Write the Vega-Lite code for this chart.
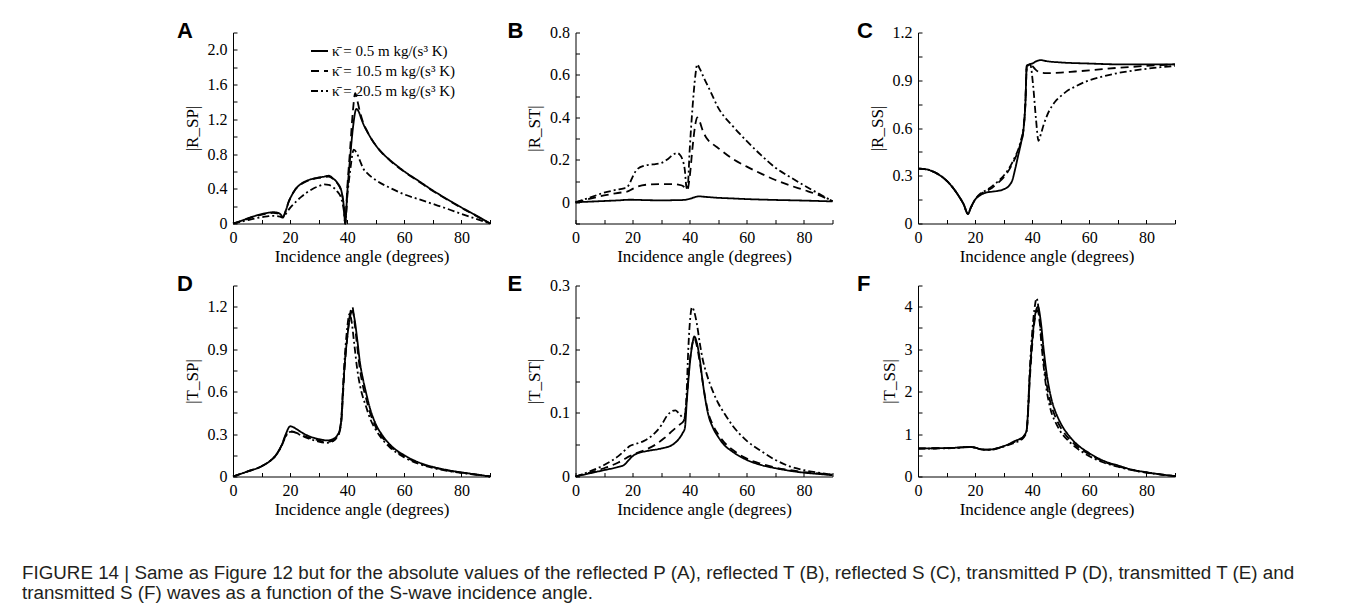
{
"$schema":"https://vega.github.io/schema/vega-lite/v6.json",
"background":"white",
"padding":{"left":22,"top":19.5,"right":10,"bottom":2},
"columns":3,
"spacing":{"row":62,"column":85.5},
"bounds":"flush",
"align":"all",
"title":{"text":["FIGURE 14 | Same as Figure 12 but for the absolute values of the reflected P (A), reflected T (B), reflected S (C), transmitted P (D), transmitted T (E) and","transmitted S (F) waves as a function of the S-wave incidence angle."],"orient":"bottom","anchor":"start","frame":"group","dx":-211,"offset":46,"font":"Liberation Sans","fontSize":18.8,"fontWeight":"normal","color":"#231f20","lineHeight":20.5},
"resolve":{"scale":{"strokeDash":"independent"},"legend":{"strokeDash":"independent"}},
"concat":[
{"width":257,"height":191,"data":{"name":"A"},"title":{"text":"A","dx":-56,"dy":22.7},
"mark":{"type":"line","interpolate":"monotone","color":"black","strokeWidth":1.8},
"encoding":{
"x":{"field":"x","type":"quantitative","scale":{"domain":[0,90],"nice":false},"axis":{"title":"Incidence angle (degrees)","values":[0,10,20,30,40,50,60,70,80,90],"labelExpr":"datum.value % 20 == 0 && datum.value < 90 ? datum.label : ''"}},
"y":{"field":"y","type":"quantitative","scale":{"domain":[0,2.2],"nice":false,"zero":false},"axis":{"title":"|R_SP|","values":[0,0.2,0.4,0.6,0.8,1.0,1.2,1.4,1.6,1.8,2.0,2.2],"labelExpr":"abs(datum.value/0.4-round(datum.value/0.4))<0.01 && datum.value<2.1 ? (datum.value==0?'0':format(datum.value,'.1f')) : ''"}},
"strokeDash":{"field":"k","type":"nominal","scale":{"domain":[0.5,10.5,20.5],"range":[[1,0],[8,5],[7,3,2,3]]},"legend":{"orient":"none","legendX":77,"legendY":9,"title":null,"padding":0,"symbolType":"stroke","symbolSize":289,"symbolStrokeWidth":1.8,"symbolStrokeColor":"black","labelFont":"Liberation Serif","labelFontSize":15,"labelColor":"black","labelLimit":0,"labelOffset":3,"rowPadding":2,"labelExpr":"'κ̄ = ' + datum.label + ' m kg/(s³ K)'"}}}},
{"width":257,"height":191,"data":{"name":"B"},"title":{"text":"B","dx":-68,"dy":22.7},
"mark":{"type":"line","interpolate":"monotone","color":"black","strokeWidth":1.8},
"encoding":{
"x":{"field":"x","type":"quantitative","scale":{"domain":[0,90],"nice":false},"axis":{"title":"Incidence angle (degrees)","values":[0,10,20,30,40,50,60,70,80,90],"labelExpr":"datum.value % 20 == 0 && datum.value < 90 ? datum.label : ''"}},
"y":{"field":"y","type":"quantitative","scale":{"domain":[-0.1,0.8],"nice":false,"zero":false},"axis":{"title":"|R_ST|","values":[-0.1,0,0.1,0.2,0.3,0.4,0.5,0.6,0.7,0.8],"labelExpr":"datum.value>=0 && abs(datum.value/0.2-round(datum.value/0.2))<0.01 ? (datum.value==0?'0':format(datum.value,'.1f')) : ''"}},
"strokeDash":{"field":"k","type":"nominal","scale":{"domain":[0.5,10.5,20.5],"range":[[1,0],[8,5],[7,3,2,3]]},"legend":null}}},
{"width":257,"height":191,"data":{"name":"C"},"title":{"text":"C","dx":-61,"dy":22.7},
"mark":{"type":"line","interpolate":"monotone","color":"black","strokeWidth":1.8},
"encoding":{
"x":{"field":"x","type":"quantitative","scale":{"domain":[0,90],"nice":false},"axis":{"title":"Incidence angle (degrees)","values":[0,10,20,30,40,50,60,70,80,90],"labelExpr":"datum.value % 20 == 0 && datum.value < 90 ? datum.label : ''"}},
"y":{"field":"y","type":"quantitative","scale":{"domain":[0,1.2],"nice":false,"zero":false},"axis":{"title":"|R_SS|","values":[0,0.15,0.3,0.45,0.6,0.75,0.9,1.05,1.2],"labelExpr":"abs(datum.value/0.3-round(datum.value/0.3))<0.01 ? (datum.value==0?'0':format(datum.value,'.1f')) : ''"}},
"strokeDash":{"field":"k","type":"nominal","scale":{"domain":[0.5,10.5,20.5],"range":[[1,0],[8,5],[7,3,2,3]]},"legend":null}}},
{"width":257,"height":191,"data":{"name":"D"},"title":{"text":"D","dx":-56,"dy":22.7},
"mark":{"type":"line","interpolate":"monotone","color":"black","strokeWidth":1.8},
"encoding":{
"x":{"field":"x","type":"quantitative","scale":{"domain":[0,90],"nice":false},"axis":{"title":"Incidence angle (degrees)","values":[0,10,20,30,40,50,60,70,80,90],"labelExpr":"datum.value % 20 == 0 && datum.value < 90 ? datum.label : ''"}},
"y":{"field":"y","type":"quantitative","scale":{"domain":[0,1.35],"nice":false,"zero":false},"axis":{"title":"|T_SP|","values":[0,0.15,0.3,0.45,0.6,0.75,0.9,1.05,1.2,1.35],"labelExpr":"datum.value<1.3 && abs(datum.value/0.3-round(datum.value/0.3))<0.01 ? (datum.value==0?'0':format(datum.value,'.1f')) : ''"}},
"strokeDash":{"field":"k","type":"nominal","scale":{"domain":[0.5,10.5,20.5],"range":[[1,0],[8,5],[7,3,2,3]]},"legend":null}}},
{"width":257,"height":191,"data":{"name":"E"},"title":{"text":"E","dx":-68,"dy":22.7},
"mark":{"type":"line","interpolate":"monotone","color":"black","strokeWidth":1.8},
"encoding":{
"x":{"field":"x","type":"quantitative","scale":{"domain":[0,90],"nice":false},"axis":{"title":"Incidence angle (degrees)","values":[0,10,20,30,40,50,60,70,80,90],"labelExpr":"datum.value % 20 == 0 && datum.value < 90 ? datum.label : ''"}},
"y":{"field":"y","type":"quantitative","scale":{"domain":[0,0.3],"nice":false,"zero":false},"axis":{"title":"|T_ST|","values":[0,0.05,0.1,0.15,0.2,0.25,0.3],"labelExpr":"abs(datum.value/0.1-round(datum.value/0.1))<0.01 ? (datum.value==0?'0':format(datum.value,'.1f')) : ''"}},
"strokeDash":{"field":"k","type":"nominal","scale":{"domain":[0.5,10.5,20.5],"range":[[1,0],[8,5],[7,3,2,3]]},"legend":null}}},
{"width":257,"height":191,"data":{"name":"F"},"title":{"text":"F","dx":-61,"dy":22.7},
"mark":{"type":"line","interpolate":"monotone","color":"black","strokeWidth":1.8},
"encoding":{
"x":{"field":"x","type":"quantitative","scale":{"domain":[0,90],"nice":false},"axis":{"title":"Incidence angle (degrees)","values":[0,10,20,30,40,50,60,70,80,90],"labelExpr":"datum.value % 20 == 0 && datum.value < 90 ? datum.label : ''"}},
"y":{"field":"y","type":"quantitative","scale":{"domain":[0,4.5],"nice":false,"zero":false},"axis":{"title":"|T_SS|","values":[0,0.5,1,1.5,2,2.5,3,3.5,4,4.5],"labelExpr":"datum.value%1==0 ? format(datum.value,'d') : ''"}},
"strokeDash":{"field":"k","type":"nominal","scale":{"domain":[0.5,10.5,20.5],"range":[[1,0],[8,5],[7,3,2,3]]},"legend":null}}}
],
"datasets":{
"A":[
{"k":0.5,"x":0,"y":0},{"k":0.5,"x":2,"y":0.02},{"k":0.5,"x":4,"y":0.045},{"k":0.5,"x":6,"y":0.07},{"k":0.5,"x":8,"y":0.09},{"k":0.5,"x":10,"y":0.108},{"k":0.5,"x":12,"y":0.122},{"k":0.5,"x":14,"y":0.13},{"k":0.5,"x":15.5,"y":0.125},{"k":0.5,"x":16.5,"y":0.11},{"k":0.5,"x":17.5,"y":0.075},{"k":0.5,"x":18.5,"y":0.15},{"k":0.5,"x":19.5,"y":0.25},{"k":0.5,"x":20.5,"y":0.32},{"k":0.5,"x":22,"y":0.4},{"k":0.5,"x":24,"y":0.46},{"k":0.5,"x":26,"y":0.495},{"k":0.5,"x":28,"y":0.515},{"k":0.5,"x":30,"y":0.53},{"k":0.5,"x":32,"y":0.54},{"k":0.5,"x":33.5,"y":0.55},{"k":0.5,"x":35,"y":0.52},{"k":0.5,"x":36.5,"y":0.47},{"k":0.5,"x":38,"y":0.37},{"k":0.5,"x":38.8,"y":0.2},{"k":0.5,"x":39.3,"y":0},{"k":0.5,"x":40,"y":0.35},{"k":0.5,"x":41,"y":0.75},{"k":0.5,"x":42,"y":1.1},{"k":0.5,"x":43.2,"y":1.32},{"k":0.5,"x":44,"y":1.29},{"k":0.5,"x":45,"y":1.2},{"k":0.5,"x":46,"y":1.12},{"k":0.5,"x":47,"y":1.06},{"k":0.5,"x":48,"y":1.0},{"k":0.5,"x":50,"y":0.9},{"k":0.5,"x":52,"y":0.82},{"k":0.5,"x":55,"y":0.73},{"k":0.5,"x":58,"y":0.65},{"k":0.5,"x":60,"y":0.6},{"k":0.5,"x":65,"y":0.49},{"k":0.5,"x":70,"y":0.38},{"k":0.5,"x":75,"y":0.28},{"k":0.5,"x":80,"y":0.185},{"k":0.5,"x":85,"y":0.095},{"k":0.5,"x":90,"y":0},
{"k":10.5,"x":0,"y":0},{"k":10.5,"x":4,"y":0.04},{"k":10.5,"x":8,"y":0.085},{"k":10.5,"x":12,"y":0.115},{"k":10.5,"x":14,"y":0.122},{"k":10.5,"x":15.5,"y":0.118},{"k":10.5,"x":16.5,"y":0.105},{"k":10.5,"x":17.5,"y":0.075},{"k":10.5,"x":18.5,"y":0.15},{"k":10.5,"x":19.5,"y":0.25},{"k":10.5,"x":20.5,"y":0.32},{"k":10.5,"x":22,"y":0.4},{"k":10.5,"x":24,"y":0.455},{"k":10.5,"x":26,"y":0.49},{"k":10.5,"x":28,"y":0.51},{"k":10.5,"x":30,"y":0.525},{"k":10.5,"x":32,"y":0.535},{"k":10.5,"x":33.5,"y":0.54},{"k":10.5,"x":35,"y":0.515},{"k":10.5,"x":36.5,"y":0.465},{"k":10.5,"x":38,"y":0.36},{"k":10.5,"x":38.8,"y":0.2},{"k":10.5,"x":39.3,"y":0},{"k":10.5,"x":40,"y":0.4},{"k":10.5,"x":41,"y":0.85},{"k":10.5,"x":42,"y":1.3},{"k":10.5,"x":42.8,"y":1.5},{"k":10.5,"x":43.5,"y":1.42},{"k":10.5,"x":44.5,"y":1.28},{"k":10.5,"x":45.5,"y":1.17},{"k":10.5,"x":47,"y":1.06},{"k":10.5,"x":48,"y":1.0},{"k":10.5,"x":50,"y":0.9},{"k":10.5,"x":55,"y":0.725},{"k":10.5,"x":60,"y":0.595},{"k":10.5,"x":65,"y":0.485},{"k":10.5,"x":70,"y":0.375},{"k":10.5,"x":75,"y":0.275},{"k":10.5,"x":80,"y":0.18},{"k":10.5,"x":85,"y":0.09},{"k":10.5,"x":90,"y":0},
{"k":20.5,"x":0,"y":0},{"k":20.5,"x":4,"y":0.03},{"k":20.5,"x":8,"y":0.06},{"k":20.5,"x":12,"y":0.082},{"k":20.5,"x":14,"y":0.088},{"k":20.5,"x":15.5,"y":0.085},{"k":20.5,"x":16.5,"y":0.078},{"k":20.5,"x":17.5,"y":0.068},{"k":20.5,"x":18.5,"y":0.11},{"k":20.5,"x":20,"y":0.18},{"k":20.5,"x":22,"y":0.25},{"k":20.5,"x":24,"y":0.31},{"k":20.5,"x":26,"y":0.36},{"k":20.5,"x":28,"y":0.4},{"k":20.5,"x":30,"y":0.43},{"k":20.5,"x":32,"y":0.45},{"k":20.5,"x":33.5,"y":0.445},{"k":20.5,"x":35,"y":0.42},{"k":20.5,"x":36.5,"y":0.37},{"k":20.5,"x":38,"y":0.28},{"k":20.5,"x":38.8,"y":0.15},{"k":20.5,"x":39.3,"y":0},{"k":20.5,"x":40,"y":0.3},{"k":20.5,"x":41,"y":0.6},{"k":20.5,"x":42.3,"y":0.85},{"k":20.5,"x":43.5,"y":0.8},{"k":20.5,"x":44.5,"y":0.72},{"k":20.5,"x":45.5,"y":0.64},{"k":20.5,"x":47,"y":0.58},{"k":20.5,"x":50,"y":0.5},{"k":20.5,"x":55,"y":0.41},{"k":20.5,"x":60,"y":0.335},{"k":20.5,"x":65,"y":0.28},{"k":20.5,"x":70,"y":0.225},{"k":20.5,"x":75,"y":0.17},{"k":20.5,"x":80,"y":0.11},{"k":20.5,"x":85,"y":0.055},{"k":20.5,"x":90,"y":0}
],
"B":[
{"k":0.5,"x":0,"y":0},{"k":0.5,"x":5,"y":0.003},{"k":0.5,"x":10,"y":0.006},{"k":0.5,"x":15,"y":0.009},{"k":0.5,"x":19,"y":0.012},{"k":0.5,"x":25,"y":0.01},{"k":0.5,"x":30,"y":0.009},{"k":0.5,"x":35,"y":0.01},{"k":0.5,"x":38,"y":0.011},{"k":0.5,"x":40,"y":0.016},{"k":0.5,"x":42,"y":0.025},{"k":0.5,"x":43,"y":0.028},{"k":0.5,"x":45,"y":0.026},{"k":0.5,"x":50,"y":0.021},{"k":0.5,"x":55,"y":0.018},{"k":0.5,"x":60,"y":0.015},{"k":0.5,"x":70,"y":0.011},{"k":0.5,"x":80,"y":0.008},{"k":0.5,"x":90,"y":0.004},
{"k":10.5,"x":0,"y":0},{"k":10.5,"x":3,"y":0.01},{"k":10.5,"x":6,"y":0.02},{"k":10.5,"x":10,"y":0.032},{"k":10.5,"x":14,"y":0.042},{"k":10.5,"x":17,"y":0.048},{"k":10.5,"x":18,"y":0.05},{"k":10.5,"x":20,"y":0.063},{"k":10.5,"x":22,"y":0.075},{"k":10.5,"x":25,"y":0.083},{"k":10.5,"x":30,"y":0.086},{"k":10.5,"x":34,"y":0.086},{"k":10.5,"x":36,"y":0.083},{"k":10.5,"x":37.5,"y":0.078},{"k":10.5,"x":38.5,"y":0.065},{"k":10.5,"x":39.2,"y":0.06},{"k":10.5,"x":40,"y":0.12},{"k":10.5,"x":41,"y":0.26},{"k":10.5,"x":42,"y":0.37},{"k":10.5,"x":42.6,"y":0.4},{"k":10.5,"x":43.5,"y":0.38},{"k":10.5,"x":44.5,"y":0.34},{"k":10.5,"x":46,"y":0.3},{"k":10.5,"x":48,"y":0.275},{"k":10.5,"x":50,"y":0.255},{"k":10.5,"x":55,"y":0.205},{"k":10.5,"x":60,"y":0.168},{"k":10.5,"x":65,"y":0.135},{"k":10.5,"x":70,"y":0.105},{"k":10.5,"x":75,"y":0.08},{"k":10.5,"x":80,"y":0.058},{"k":10.5,"x":85,"y":0.035},{"k":10.5,"x":90,"y":0.005},
{"k":20.5,"x":0,"y":0},{"k":20.5,"x":3,"y":0.013},{"k":20.5,"x":6,"y":0.027},{"k":20.5,"x":10,"y":0.045},{"k":20.5,"x":14,"y":0.058},{"k":20.5,"x":17,"y":0.066},{"k":20.5,"x":18,"y":0.07},{"k":20.5,"x":19,"y":0.09},{"k":20.5,"x":20,"y":0.12},{"k":20.5,"x":21,"y":0.145},{"k":20.5,"x":22,"y":0.16},{"k":20.5,"x":24,"y":0.172},{"k":20.5,"x":26,"y":0.177},{"k":20.5,"x":28,"y":0.18},{"k":20.5,"x":30,"y":0.185},{"k":20.5,"x":32,"y":0.2},{"k":20.5,"x":34,"y":0.222},{"k":20.5,"x":35.5,"y":0.232},{"k":20.5,"x":36.5,"y":0.225},{"k":20.5,"x":37.5,"y":0.2},{"k":20.5,"x":38.3,"y":0.15},{"k":20.5,"x":38.8,"y":0.075},{"k":20.5,"x":39.2,"y":0.06},{"k":20.5,"x":40,"y":0.25},{"k":20.5,"x":41,"y":0.45},{"k":20.5,"x":42,"y":0.6},{"k":20.5,"x":42.6,"y":0.65},{"k":20.5,"x":43.5,"y":0.63},{"k":20.5,"x":45,"y":0.585},{"k":20.5,"x":47,"y":0.53},{"k":20.5,"x":50,"y":0.445},{"k":20.5,"x":55,"y":0.36},{"k":20.5,"x":60,"y":0.288},{"k":20.5,"x":65,"y":0.222},{"k":20.5,"x":70,"y":0.163},{"k":20.5,"x":75,"y":0.12},{"k":20.5,"x":80,"y":0.08},{"k":20.5,"x":85,"y":0.042},{"k":20.5,"x":90,"y":0.005}
],
"C":[
{"k":0.5,"x":0,"y":0.345},{"k":0.5,"x":3,"y":0.34},{"k":0.5,"x":6,"y":0.32},{"k":0.5,"x":9,"y":0.285},{"k":0.5,"x":12,"y":0.23},{"k":0.5,"x":14,"y":0.18},{"k":0.5,"x":16,"y":0.12},{"k":0.5,"x":17.5,"y":0.06},{"k":0.5,"x":18.5,"y":0.1},{"k":0.5,"x":20,"y":0.15},{"k":0.5,"x":22,"y":0.18},{"k":0.5,"x":24,"y":0.195},{"k":0.5,"x":26,"y":0.2},{"k":0.5,"x":28,"y":0.205},{"k":0.5,"x":30,"y":0.215},{"k":0.5,"x":32,"y":0.24},{"k":0.5,"x":33,"y":0.27},{"k":0.5,"x":34,"y":0.34},{"k":0.5,"x":35,"y":0.42},{"k":0.5,"x":36,"y":0.5},{"k":0.5,"x":37,"y":0.6},{"k":0.5,"x":37.6,"y":0.75},{"k":0.5,"x":38.1,"y":0.99},{"k":0.5,"x":39,"y":1.0},{"k":0.5,"x":40,"y":1.005},{"k":0.5,"x":41.5,"y":1.02},{"k":0.5,"x":43,"y":1.027},{"k":0.5,"x":45,"y":1.02},{"k":0.5,"x":50,"y":1.012},{"k":0.5,"x":60,"y":1.005},{"k":0.5,"x":70,"y":1.0},{"k":0.5,"x":80,"y":1.0},{"k":0.5,"x":90,"y":1.0},
{"k":10.5,"x":0,"y":0.345},{"k":10.5,"x":3,"y":0.34},{"k":10.5,"x":6,"y":0.32},{"k":10.5,"x":9,"y":0.285},{"k":10.5,"x":12,"y":0.23},{"k":10.5,"x":14,"y":0.18},{"k":10.5,"x":16,"y":0.12},{"k":10.5,"x":17.5,"y":0.06},{"k":10.5,"x":18.5,"y":0.1},{"k":10.5,"x":20,"y":0.15},{"k":10.5,"x":22,"y":0.185},{"k":10.5,"x":24,"y":0.205},{"k":10.5,"x":26,"y":0.225},{"k":10.5,"x":28,"y":0.255},{"k":10.5,"x":30,"y":0.29},{"k":10.5,"x":32,"y":0.34},{"k":10.5,"x":34,"y":0.41},{"k":10.5,"x":35,"y":0.45},{"k":10.5,"x":36,"y":0.51},{"k":10.5,"x":37,"y":0.6},{"k":10.5,"x":37.6,"y":0.75},{"k":10.5,"x":38.1,"y":0.99},{"k":10.5,"x":39,"y":1.0},{"k":10.5,"x":40,"y":0.99},{"k":10.5,"x":41,"y":0.97},{"k":10.5,"x":42,"y":0.955},{"k":10.5,"x":43,"y":0.948},{"k":10.5,"x":45,"y":0.945},{"k":10.5,"x":50,"y":0.948},{"k":10.5,"x":55,"y":0.955},{"k":10.5,"x":60,"y":0.962},{"k":10.5,"x":70,"y":0.978},{"k":10.5,"x":80,"y":0.99},{"k":10.5,"x":90,"y":1.0},
{"k":20.5,"x":0,"y":0.345},{"k":20.5,"x":3,"y":0.34},{"k":20.5,"x":6,"y":0.32},{"k":20.5,"x":9,"y":0.285},{"k":20.5,"x":12,"y":0.23},{"k":20.5,"x":14,"y":0.18},{"k":20.5,"x":16,"y":0.12},{"k":20.5,"x":17.5,"y":0.06},{"k":20.5,"x":18.5,"y":0.1},{"k":20.5,"x":20,"y":0.15},{"k":20.5,"x":22,"y":0.19},{"k":20.5,"x":24,"y":0.21},{"k":20.5,"x":26,"y":0.235},{"k":20.5,"x":28,"y":0.265},{"k":20.5,"x":30,"y":0.3},{"k":20.5,"x":32,"y":0.35},{"k":20.5,"x":34,"y":0.42},{"k":20.5,"x":35,"y":0.46},{"k":20.5,"x":36,"y":0.52},{"k":20.5,"x":37,"y":0.61},{"k":20.5,"x":37.6,"y":0.76},{"k":20.5,"x":38.1,"y":0.98},{"k":20.5,"x":39.3,"y":1.0},{"k":20.5,"x":40.3,"y":0.87},{"k":20.5,"x":41.3,"y":0.66},{"k":20.5,"x":42.2,"y":0.52},{"k":20.5,"x":43,"y":0.56},{"k":20.5,"x":44,"y":0.62},{"k":20.5,"x":45,"y":0.67},{"k":20.5,"x":46,"y":0.71},{"k":20.5,"x":47,"y":0.74},{"k":20.5,"x":48,"y":0.765},{"k":20.5,"x":50,"y":0.8},{"k":20.5,"x":52,"y":0.83},{"k":20.5,"x":55,"y":0.86},{"k":20.5,"x":60,"y":0.9},{"k":20.5,"x":65,"y":0.925},{"k":20.5,"x":70,"y":0.945},{"k":20.5,"x":75,"y":0.96},{"k":20.5,"x":80,"y":0.972},{"k":20.5,"x":85,"y":0.982},{"k":20.5,"x":90,"y":0.99}
],
"D":[
{"k":0.5,"x":0,"y":0},{"k":0.5,"x":5,"y":0.035},{"k":0.5,"x":10,"y":0.072},{"k":0.5,"x":13,"y":0.11},{"k":0.5,"x":15,"y":0.15},{"k":0.5,"x":17,"y":0.22},{"k":0.5,"x":18.5,"y":0.3},{"k":0.5,"x":20,"y":0.355},{"k":0.5,"x":21,"y":0.35},{"k":0.5,"x":22,"y":0.338},{"k":0.5,"x":25,"y":0.3},{"k":0.5,"x":28,"y":0.275},{"k":0.5,"x":30,"y":0.265},{"k":0.5,"x":33,"y":0.255},{"k":0.5,"x":35,"y":0.265},{"k":0.5,"x":36.5,"y":0.29},{"k":0.5,"x":37.5,"y":0.34},{"k":0.5,"x":38,"y":0.42},{"k":0.5,"x":38.5,"y":0.6},{"k":0.5,"x":39,"y":0.76},{"k":0.5,"x":40,"y":0.98},{"k":0.5,"x":41,"y":1.13},{"k":0.5,"x":41.8,"y":1.17},{"k":0.5,"x":42.5,"y":1.12},{"k":0.5,"x":43.5,"y":0.97},{"k":0.5,"x":44.5,"y":0.8},{"k":0.5,"x":45.5,"y":0.69},{"k":0.5,"x":46.5,"y":0.6},{"k":0.5,"x":48,"y":0.48},{"k":0.5,"x":50,"y":0.37},{"k":0.5,"x":52,"y":0.3},{"k":0.5,"x":55,"y":0.225},{"k":0.5,"x":60,"y":0.15},{"k":0.5,"x":65,"y":0.1},{"k":0.5,"x":70,"y":0.068},{"k":0.5,"x":75,"y":0.046},{"k":0.5,"x":80,"y":0.029},{"k":0.5,"x":85,"y":0.015},{"k":0.5,"x":90,"y":0},
{"k":10.5,"x":0,"y":0},{"k":10.5,"x":5,"y":0.035},{"k":10.5,"x":10,"y":0.072},{"k":10.5,"x":13,"y":0.11},{"k":10.5,"x":15,"y":0.15},{"k":10.5,"x":17,"y":0.22},{"k":10.5,"x":18.5,"y":0.29},{"k":10.5,"x":20,"y":0.32},{"k":10.5,"x":21,"y":0.318},{"k":10.5,"x":22,"y":0.31},{"k":10.5,"x":25,"y":0.285},{"k":10.5,"x":28,"y":0.265},{"k":10.5,"x":30,"y":0.255},{"k":10.5,"x":33,"y":0.245},{"k":10.5,"x":35,"y":0.255},{"k":10.5,"x":36.5,"y":0.28},{"k":10.5,"x":37.5,"y":0.33},{"k":10.5,"x":38,"y":0.4},{"k":10.5,"x":38.5,"y":0.57},{"k":10.5,"x":39,"y":0.74},{"k":10.5,"x":40,"y":0.98},{"k":10.5,"x":41,"y":1.15},{"k":10.5,"x":41.8,"y":1.2},{"k":10.5,"x":42.5,"y":1.1},{"k":10.5,"x":43.5,"y":0.92},{"k":10.5,"x":44.5,"y":0.75},{"k":10.5,"x":45.5,"y":0.64},{"k":10.5,"x":46.5,"y":0.56},{"k":10.5,"x":48,"y":0.45},{"k":10.5,"x":50,"y":0.35},{"k":10.5,"x":52,"y":0.285},{"k":10.5,"x":55,"y":0.215},{"k":10.5,"x":60,"y":0.143},{"k":10.5,"x":65,"y":0.096},{"k":10.5,"x":70,"y":0.065},{"k":10.5,"x":75,"y":0.044},{"k":10.5,"x":80,"y":0.027},{"k":10.5,"x":85,"y":0.014},{"k":10.5,"x":90,"y":0},
{"k":20.5,"x":0,"y":0},{"k":20.5,"x":5,"y":0.035},{"k":20.5,"x":10,"y":0.072},{"k":20.5,"x":13,"y":0.11},{"k":20.5,"x":15,"y":0.15},{"k":20.5,"x":17,"y":0.215},{"k":20.5,"x":18.5,"y":0.285},{"k":20.5,"x":20,"y":0.315},{"k":20.5,"x":21,"y":0.315},{"k":20.5,"x":22,"y":0.308},{"k":20.5,"x":25,"y":0.28},{"k":20.5,"x":28,"y":0.258},{"k":20.5,"x":30,"y":0.247},{"k":20.5,"x":33,"y":0.238},{"k":20.5,"x":35,"y":0.25},{"k":20.5,"x":36.5,"y":0.28},{"k":20.5,"x":37.5,"y":0.34},{"k":20.5,"x":38,"y":0.43},{"k":20.5,"x":38.5,"y":0.62},{"k":20.5,"x":39,"y":0.8},{"k":20.5,"x":40,"y":1.05},{"k":20.5,"x":40.8,"y":1.15},{"k":20.5,"x":41.5,"y":1.1},{"k":20.5,"x":42.5,"y":0.93},{"k":20.5,"x":43.5,"y":0.76},{"k":20.5,"x":44.5,"y":0.64},{"k":20.5,"x":45.5,"y":0.56},{"k":20.5,"x":46.5,"y":0.5},{"k":20.5,"x":48,"y":0.41},{"k":20.5,"x":50,"y":0.33},{"k":20.5,"x":52,"y":0.27},{"k":20.5,"x":55,"y":0.205},{"k":20.5,"x":60,"y":0.135},{"k":20.5,"x":65,"y":0.09},{"k":20.5,"x":70,"y":0.06},{"k":20.5,"x":75,"y":0.04},{"k":20.5,"x":80,"y":0.025},{"k":20.5,"x":85,"y":0.013},{"k":20.5,"x":90,"y":0}
],
"E":[
{"k":0.5,"x":0,"y":0},{"k":0.5,"x":5,"y":0.005},{"k":0.5,"x":10,"y":0.01},{"k":0.5,"x":15,"y":0.015},{"k":0.5,"x":17,"y":0.018},{"k":0.5,"x":18.5,"y":0.025},{"k":0.5,"x":20,"y":0.032},{"k":0.5,"x":21.5,"y":0.036},{"k":0.5,"x":25,"y":0.04},{"k":0.5,"x":30,"y":0.044},{"k":0.5,"x":34,"y":0.05},{"k":0.5,"x":36,"y":0.058},{"k":0.5,"x":37.5,"y":0.068},{"k":0.5,"x":38.3,"y":0.076},{"k":0.5,"x":39,"y":0.12},{"k":0.5,"x":40,"y":0.175},{"k":0.5,"x":41,"y":0.21},{"k":0.5,"x":41.6,"y":0.22},{"k":0.5,"x":42.5,"y":0.21},{"k":0.5,"x":43.5,"y":0.185},{"k":0.5,"x":44.5,"y":0.15},{"k":0.5,"x":45.5,"y":0.12},{"k":0.5,"x":46.5,"y":0.097},{"k":0.5,"x":48,"y":0.078},{"k":0.5,"x":50,"y":0.062},{"k":0.5,"x":52,"y":0.05},{"k":0.5,"x":55,"y":0.039},{"k":0.5,"x":60,"y":0.026},{"k":0.5,"x":65,"y":0.018},{"k":0.5,"x":70,"y":0.013},{"k":0.5,"x":75,"y":0.009},{"k":0.5,"x":80,"y":0.006},{"k":0.5,"x":85,"y":0.004},{"k":0.5,"x":90,"y":0.002},
{"k":10.5,"x":0,"y":0},{"k":10.5,"x":5,"y":0.006},{"k":10.5,"x":10,"y":0.013},{"k":10.5,"x":15,"y":0.022},{"k":10.5,"x":17,"y":0.027},{"k":10.5,"x":19,"y":0.032},{"k":10.5,"x":21,"y":0.036},{"k":10.5,"x":25,"y":0.043},{"k":10.5,"x":28,"y":0.05},{"k":10.5,"x":31,"y":0.06},{"k":10.5,"x":34,"y":0.072},{"k":10.5,"x":36,"y":0.08},{"k":10.5,"x":38,"y":0.088},{"k":10.5,"x":39,"y":0.125},{"k":10.5,"x":40,"y":0.18},{"k":10.5,"x":41,"y":0.21},{"k":10.5,"x":41.6,"y":0.217},{"k":10.5,"x":42.5,"y":0.205},{"k":10.5,"x":43.5,"y":0.18},{"k":10.5,"x":44.5,"y":0.15},{"k":10.5,"x":45.5,"y":0.122},{"k":10.5,"x":46.5,"y":0.1},{"k":10.5,"x":48,"y":0.082},{"k":10.5,"x":50,"y":0.066},{"k":10.5,"x":52,"y":0.054},{"k":10.5,"x":55,"y":0.042},{"k":10.5,"x":60,"y":0.028},{"k":10.5,"x":65,"y":0.02},{"k":10.5,"x":70,"y":0.014},{"k":10.5,"x":75,"y":0.01},{"k":10.5,"x":80,"y":0.007},{"k":10.5,"x":85,"y":0.005},{"k":10.5,"x":90,"y":0.003},
{"k":20.5,"x":0,"y":0},{"k":20.5,"x":5,"y":0.008},{"k":20.5,"x":10,"y":0.018},{"k":20.5,"x":15,"y":0.032},{"k":20.5,"x":17.5,"y":0.042},{"k":20.5,"x":19,"y":0.048},{"k":20.5,"x":21,"y":0.051},{"k":20.5,"x":24,"y":0.056},{"k":20.5,"x":27,"y":0.065},{"k":20.5,"x":30,"y":0.08},{"k":20.5,"x":32,"y":0.095},{"k":20.5,"x":34,"y":0.103},{"k":20.5,"x":35,"y":0.104},{"k":20.5,"x":36,"y":0.1},{"k":20.5,"x":37,"y":0.095},{"k":20.5,"x":38,"y":0.09},{"k":20.5,"x":38.8,"y":0.12},{"k":20.5,"x":39.5,"y":0.2},{"k":20.5,"x":40.2,"y":0.25},{"k":20.5,"x":40.8,"y":0.266},{"k":20.5,"x":41.5,"y":0.26},{"k":20.5,"x":42.5,"y":0.24},{"k":20.5,"x":43.5,"y":0.21},{"k":20.5,"x":44.5,"y":0.185},{"k":20.5,"x":46,"y":0.16},{"k":20.5,"x":48,"y":0.135},{"k":20.5,"x":50,"y":0.115},{"k":20.5,"x":52,"y":0.1},{"k":20.5,"x":55,"y":0.08},{"k":20.5,"x":60,"y":0.056},{"k":20.5,"x":65,"y":0.04},{"k":20.5,"x":70,"y":0.026},{"k":20.5,"x":75,"y":0.016},{"k":20.5,"x":80,"y":0.01},{"k":20.5,"x":85,"y":0.006},{"k":20.5,"x":90,"y":0.003}
],
"F":[
{"k":0.5,"x":0,"y":0.66},{"k":0.5,"x":5,"y":0.665},{"k":0.5,"x":10,"y":0.67},{"k":0.5,"x":15,"y":0.685},{"k":0.5,"x":18,"y":0.7},{"k":0.5,"x":20,"y":0.68},{"k":0.5,"x":22,"y":0.645},{"k":0.5,"x":24,"y":0.632},{"k":0.5,"x":26,"y":0.64},{"k":0.5,"x":28,"y":0.67},{"k":0.5,"x":30,"y":0.715},{"k":0.5,"x":32,"y":0.77},{"k":0.5,"x":34,"y":0.84},{"k":0.5,"x":35.5,"y":0.88},{"k":0.5,"x":37,"y":0.95},{"k":0.5,"x":38,"y":1.08},{"k":0.5,"x":38.5,"y":1.5},{"k":0.5,"x":39,"y":2.2},{"k":0.5,"x":40,"y":3.2},{"k":0.5,"x":41,"y":3.8},{"k":0.5,"x":42,"y":4.0},{"k":0.5,"x":43,"y":3.65},{"k":0.5,"x":44,"y":3.0},{"k":0.5,"x":45,"y":2.45},{"k":0.5,"x":46,"y":2.05},{"k":0.5,"x":47,"y":1.75},{"k":0.5,"x":48,"y":1.55},{"k":0.5,"x":50,"y":1.25},{"k":0.5,"x":53,"y":0.95},{"k":0.5,"x":55,"y":0.8},{"k":0.5,"x":60,"y":0.55},{"k":0.5,"x":65,"y":0.37},{"k":0.5,"x":70,"y":0.26},{"k":0.5,"x":75,"y":0.16},{"k":0.5,"x":80,"y":0.1},{"k":0.5,"x":85,"y":0.05},{"k":0.5,"x":90,"y":0.01},
{"k":10.5,"x":0,"y":0.66},{"k":10.5,"x":5,"y":0.665},{"k":10.5,"x":10,"y":0.67},{"k":10.5,"x":15,"y":0.685},{"k":10.5,"x":18,"y":0.7},{"k":10.5,"x":20,"y":0.68},{"k":10.5,"x":22,"y":0.645},{"k":10.5,"x":24,"y":0.632},{"k":10.5,"x":26,"y":0.64},{"k":10.5,"x":28,"y":0.67},{"k":10.5,"x":30,"y":0.712},{"k":10.5,"x":32,"y":0.76},{"k":10.5,"x":34,"y":0.82},{"k":10.5,"x":35.5,"y":0.86},{"k":10.5,"x":37,"y":0.94},{"k":10.5,"x":38,"y":1.06},{"k":10.5,"x":38.5,"y":1.45},{"k":10.5,"x":39,"y":2.1},{"k":10.5,"x":40,"y":3.1},{"k":10.5,"x":41,"y":3.75},{"k":10.5,"x":41.8,"y":3.92},{"k":10.5,"x":43,"y":3.45},{"k":10.5,"x":44,"y":2.75},{"k":10.5,"x":45,"y":2.2},{"k":10.5,"x":46,"y":1.85},{"k":10.5,"x":47,"y":1.6},{"k":10.5,"x":48,"y":1.42},{"k":10.5,"x":50,"y":1.15},{"k":10.5,"x":53,"y":0.88},{"k":10.5,"x":55,"y":0.75},{"k":10.5,"x":60,"y":0.52},{"k":10.5,"x":65,"y":0.35},{"k":10.5,"x":70,"y":0.245},{"k":10.5,"x":75,"y":0.155},{"k":10.5,"x":80,"y":0.095},{"k":10.5,"x":85,"y":0.048},{"k":10.5,"x":90,"y":0.01},
{"k":20.5,"x":0,"y":0.655},{"k":20.5,"x":10,"y":0.665},{"k":20.5,"x":15,"y":0.68},{"k":20.5,"x":18,"y":0.695},{"k":20.5,"x":20,"y":0.675},{"k":20.5,"x":22,"y":0.64},{"k":20.5,"x":24,"y":0.628},{"k":20.5,"x":26,"y":0.635},{"k":20.5,"x":28,"y":0.665},{"k":20.5,"x":30,"y":0.705},{"k":20.5,"x":32,"y":0.75},{"k":20.5,"x":34,"y":0.8},{"k":20.5,"x":35.5,"y":0.84},{"k":20.5,"x":37,"y":0.92},{"k":20.5,"x":38,"y":1.05},{"k":20.5,"x":38.5,"y":1.5},{"k":20.5,"x":39,"y":2.3},{"k":20.5,"x":40,"y":3.4},{"k":20.5,"x":41,"y":4.05},{"k":20.5,"x":41.5,"y":4.2},{"k":20.5,"x":42.3,"y":3.9},{"k":20.5,"x":43,"y":3.3},{"k":20.5,"x":44,"y":2.6},{"k":20.5,"x":45,"y":2.05},{"k":20.5,"x":46,"y":1.7},{"k":20.5,"x":47,"y":1.45},{"k":20.5,"x":48,"y":1.3},{"k":20.5,"x":50,"y":1.05},{"k":20.5,"x":53,"y":0.82},{"k":20.5,"x":55,"y":0.7},{"k":20.5,"x":60,"y":0.48},{"k":20.5,"x":65,"y":0.33},{"k":20.5,"x":70,"y":0.23},{"k":20.5,"x":75,"y":0.15},{"k":20.5,"x":80,"y":0.09},{"k":20.5,"x":85,"y":0.045},{"k":20.5,"x":90,"y":0.01}
]
},
"config":{
"view":{"stroke":null},
"axis":{"domainColor":"black","domainWidth":1,"tickColor":"black","tickSize":-4,"tickWidth":1,"labelFont":"Liberation Serif","labelFontSize":16,"labelColor":"black","labelPadding":10,"labelFlush":false,"labelOverlap":false,"titleFont":"Liberation Serif","titleFontSize":17,"titleFontWeight":"normal","titleColor":"black","grid":false},
"axisX":{"titlePadding":3},
"axisY":{"titlePadding":6},
"title":{"font":"Liberation Sans","fontSize":22,"fontWeight":"bold","color":"black","anchor":"start","frame":"group","offset":0}
}
}
